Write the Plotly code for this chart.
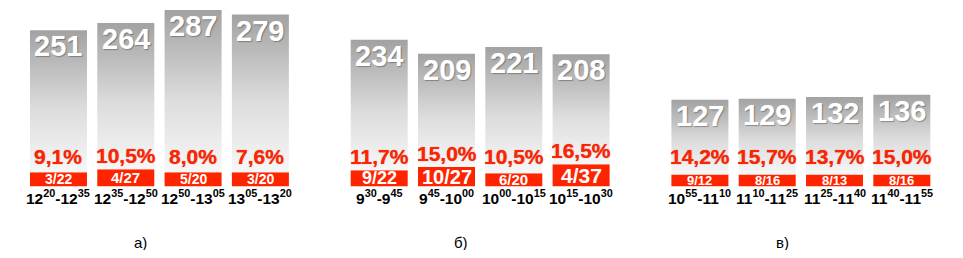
import plotly.graph_objects as go

# ---------------- data ----------------
group_labels = ["а)", "б)", "в)"]
counts = [[251, 264, 287, 279],
          [234, 209, 221, 208],
          [127, 129, 132, 136]]
percents = [["9,1%", "10,5%", "8,0%", "7,6%"],
            ["11,7%", "15,0%", "10,5%", "16,5%"],
            ["14,2%", "15,7%", "13,7%", "15,0%"]]
fractions = [["3/22", "4/27", "5/20", "3/20"],
             ["9/22", "10/27", "6/20", "4/37"],
             ["9/12", "8/16", "8/13", "8/16"]]
start_h = [["12", "12", "12", "13"], ["9", "9", "10", "10"], ["10", "11", "11", "11"]]
start_m = [["20", "35", "50", "05"], ["30", "45", "00", "15"], ["55", "10", "25", "40"]]
end_h = [["12", "12", "13", "13"], ["9", "10", "10", "10"], ["11", "11", "11", "11"]]
end_m = [["35", "50", "05", "20"], ["45", "00", "15", "30"], ["10", "25", "40", "55"]]

# ---------------- style ----------------
GAP = 4.765
BAR_W = 0.847
BAND_BOTTOM = -27
band_h = [[25, 30, 25, 25], [28.5, 34, 23, 39], [21, 21, 21, 21]]
frac_size = [[14, 15, 14, 14], [18, 20, 15, 21], [13, 13, 13, 13]]
FONT = "Liberation Sans, Arial, sans-serif"
RED = "#ff2400"

fig = go.Figure()
annotations = []

for g in range(3):
    for i in range(4):
        xc = g * GAP + i
        v = counts[g][i]
        top_band = BAND_BOTTOM + band_h[g][i]
        x0, x1 = xc - BAR_W / 2, xc + BAR_W / 2
        # gradient gray bar
        fig.add_trace(go.Scatter(
            x=[x0, x1, x1, x0, x0], y=[top_band, top_band, v, v, top_band],
            mode="lines", line=dict(width=0, color="rgba(0,0,0,0)"),
            fill="toself",
            fillgradient=dict(type="vertical", start=top_band, stop=v,
                              colorscale=[[0, "#f7f7f7"], [0.45, "#dcdcdc"], [1, "#a2a2a2"]]),
            hoverinfo="skip", showlegend=False))
        # red band
        fig.add_trace(go.Bar(
            x=[xc], y=[band_h[g][i]], base=[BAND_BOTTOM], width=BAR_W,
            marker=dict(color=RED, line=dict(width=0)),
            hoverinfo="skip", showlegend=False))
        annotations.append(dict(
            x=xc, y=v, yanchor="top", yshift=2, showarrow=False, text=f"<b>{v}</b>",
            font=dict(family=FONT, size=29, color="white",
                      shadow="1px 1px 1px rgba(0,0,0,0.3)")))
        annotations.append(dict(
            x=xc, y=max(top_band, 0) + 25, yanchor="middle", showarrow=False,
            text=f"<b>{percents[g][i]}</b>",
            font=dict(family=FONT, size=21, color=RED,
                      shadow="0px 0px 1px rgba(150,0,0,0.6)")))
        annotations.append(dict(
            x=xc, y=BAND_BOTTOM + band_h[g][i] / 2, yanchor="middle", showarrow=False,
            text=f"<b>{fractions[g][i]}</b>",
            font=dict(family=FONT, size=frac_size[g][i], color="white")))
        annotations.append(dict(
            x=xc, y=-47, yanchor="middle", showarrow=False,
            text=(f"<b>{start_h[g][i]}<sup>{start_m[g][i]}</sup>-"
                  f"{end_h[g][i]}<sup>{end_m[g][i]}</sup></b>"),
            font=dict(family=FONT, size=15.5, color="black")))
    annotations.append(dict(
        x=g * GAP + 1.5 - 0.28, y=0, yref="paper", yanchor="bottom", yshift=-3,
        showarrow=False, text=group_labels[g],
        font=dict(family=FONT, size=15, color="black")))

# the page body has an 8px margin, so the figure is sized to fit the 963x258 window
fig.update_layout(
    width=947, height=242,
    margin=dict(l=0, r=0, t=0, b=0),
    paper_bgcolor="white", plot_bgcolor="white",
    xaxis=dict(range=[-0.750, 13.32], visible=False, fixedrange=True),
    yaxis=dict(range=[-140.8, 290.6], visible=False, fixedrange=True),
    barmode="overlay",
    annotations=annotations,
    showlegend=False,
)

fig.write_html("out.html")
